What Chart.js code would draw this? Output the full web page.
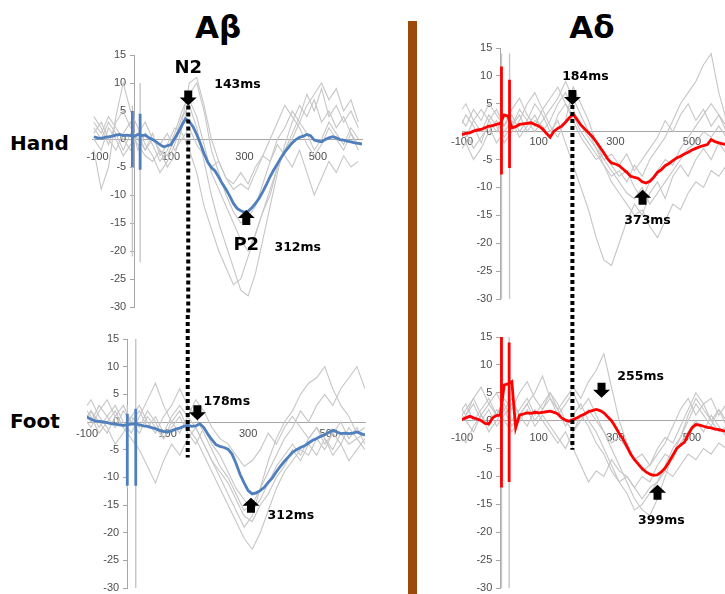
<!DOCTYPE html>
<html>
<head>
<meta charset="utf-8">
<script src="https://cdn.jsdelivr.net/npm/chart.js@4.4.1/dist/chart.umd.min.js"></script>
<style>
  html, body { margin: 0; padding: 0; background: #fff; }
  body { width: 725px; height: 594px; overflow: hidden; position: relative; font-family: "DejaVu Sans", sans-serif; }
  .panel { position: absolute; }
  .title { position: absolute; width: 100px; text-align: center; font-weight: bold; font-size: 31px; line-height: 31px; color: #000; }
  .row { position: absolute; left: 10px; font-weight: bold; font-size: 20px; line-height: 20px; color: #000; }
  .divider { position: absolute; left: 408px; top: 21px; width: 9px; height: 573px; background: #9c4a0c; }
</style>
</head>
<body>
<div class="title" style="left:168px;top:12px">Aβ</div>
<div class="title" style="left:542px;top:12px">Aδ</div>
<div class="row" style="top:133px">Hand</div>
<div class="row" style="top:411px">Foot</div>
<div class="divider"></div>

<div class="panel" style="left:60px;top:30px"><canvas id="abHand" width="310" height="285"></canvas></div>
<div class="panel" style="left:430px;top:25px"><canvas id="adHand" width="320" height="290"></canvas></div>
<div class="panel" style="left:55px;top:315px"><canvas id="abFoot" width="320" height="279"></canvas></div>
<div class="panel" style="left:430px;top:315px"><canvas id="adFoot" width="320" height="279"></canvas></div>

<script>
// ── Axes ──────────────────────────────────────────────────────────────────────
const xTicks = [-100, 100, 300, 500];
const yTicks = [-30, -25, -20, -15, -10, -5, 0, 5, 10, 15];

// grand average sampled every 10 ms
const meanTimes = [
  -110, -100, -90, -80, -70, -60, -50, -40, -30, -20,
  -10, 0, 10, 20, 30, 40, 50, 60, 70, 80,
  90, 100, 110, 120, 130, 140, 150, 160, 170, 180,
  190, 200, 210, 220, 230, 240, 250, 260, 270, 280,
  290, 300, 310, 320, 330, 340, 350, 360, 370, 380,
  390, 400, 410, 420, 430, 440, 450, 460, 470, 480,
  490, 500, 510, 520, 530, 540, 550, 560, 570, 580,
  590, 600, 610, 620,
];
// single subjects sampled every 20 ms
const greyTimes = [
  -110, -90, -70, -50, -30, -10, 10, 30, 50, 70,
  90, 110, 130, 150, 170, 190, 210, 230, 250, 270,
  290, 310, 330, 350, 370, 390, 410, 430, 450, 470,
  490, 510, 530, 550, 570, 590, 610,
];

// ── Hand Aβ ───────────────────────────────────────────────────────────────────
const abHandMean = [
  0.4, 0.2, 0.1, 0.3, 0.4, 0.5, 0.7, 0.8, 0.6, 0.7,
  0.6, 0.5, 0.8, 0.6, 0.7, 0.2, -0.1, -0.5, -1.0, -1.4,
  -1.2, -1.0, 0.1, 1.2, 2.5, 3.6, 3.1, 2.2, 0.8, -0.8,
  -2.6, -4.1, -5.1, -5.7, -6.8, -8.0, -9.0, -10.2, -11.5, -12.4,
  -12.8, -13.1, -12.9, -12.3, -11.5, -10.6, -9.4, -8.1, -6.7, -5.5,
  -4.4, -3.3, -2.3, -1.5, -0.7, -0.1, 0.3, 0.5, 0.8, 0.6,
  -0.2, -0.4, -0.5, -0.1, 0.2, 0.4, 0.2, -0.1, -0.2, -0.4,
  -0.5, -0.7, -0.8, -0.9,
];
const abHandGrey = [
  [2, 0, 3, 1, -2, 1, -1, -3, -4, -2, -3, 0, 4, 6, 2, -4, -10, -15, -19, -23, -27, -28, -24, -18, -12, -6, -1, 3, 6, 4, 7, 3, 5, 2, 4, 1, -2],
  [4, 2, -1, 3, 5, 2, 0, -2, 1, -3, -1, 2, 1, -2, -6, -12, -16, -20, -23, -26, -25, -21, -17, -13, -10, -5, -2, 1, 4, 8, 5, 9, 4, 6, 3, 5, 2],
  [-2, -9, -5, 4, 10, 5, 2, -1, -3, -6, -4, -1, 3, 10, 11, 6, 0, -4, -7, -9, -8, -9, -6, -3, 0, 3, 6, 4, 2, -1, -3, -1, 2, 0, -2, 1, -1],
  [1, 3, 0, -2, 1, 3, -2, 1, -1, -4, -2, 1, 5, 8, 10, 5, -2, -6, -10, -13, -15, -14, -12, -8, -4, 0, 2, 5, 3, 6, 8, 10, 7, 9, 5, 7, 3],
  [0, -2, 2, 0, -3, -1, 1, -2, 0, -1, 1, -2, 0, 2, -1, -3, -5, -4, -7, -8, -6, -8, -5, -3, -4, -1, -3, -5, -2, -6, -10, -7, -4, -6, -3, -5, -4],
  [3, 1, 4, 2, 0, -2, 1, 3, 0, -2, -5, -3, 2, 7, 4, -1, -6, -9, -12, -15, -18, -20, -17, -13, -9, -5, -2, 0, 3, 1, -2, 0, 3, 1, -1, 2, 0],
];
const abHandSpikeTimes = [-5, 16];
const abHandMeanSpikeHi = [5, 4.5];
const abHandMeanSpikeLo = [-5, -5.5];
const abHandGreySpikeHi = [6, 10];
const abHandGreySpikeLo = [-21, -22];

// ── Hand Aδ ───────────────────────────────────────────────────────────────────
const adHandMean = [
  -0.6, -0.5, -0.3, -0.2, 0.1, 0.3, 0.4, 0.7, 1.0, 1.1,
  1.3, 1.5, 3.0, 2.8, 0.7, 0.9, 1.3, 1.4, 1.5, 1.6,
  1.3, 1.0, 0.5, -0.3, -1.0, 0.1, 0.6, 1.0, 1.7, 2.5,
  3.1, 2.2, 1.2, 0.5, -0.2, -0.9, -1.8, -2.8, -3.8, -4.9,
  -5.6, -5.8, -6.1, -6.7, -7.3, -8.0, -8.2, -8.4, -9.0, -9.2,
  -8.9, -8.2, -7.3, -6.8, -6.1, -5.7, -5.2, -4.7, -4.4, -4.0,
  -3.7, -3.3, -3.0, -2.7, -2.5, -2.3, -1.4, -1.8, -2.0, -2.2,
  -2.3, -2.4, -2.5, -2.6,
];
const adHandGrey = [
  [0, 3, 1, -2, 2, 4, 1, 3, 0, 2, 5, 3, 0, 2, -2, -6, -10, -14, -19, -23, -24, -20, -16, -13, -15, -11, -9, -12, -8, -6, -8, -5, -3, -5, -2, -4, -3],
  [3, 1, 4, 2, 5, 3, 1, 4, 6, 3, 1, 4, 6, 8, 5, 3, 0, -2, -4, -6, -8, -7, -9, -6, -8, -5, -3, -1, 2, 5, 7, 9, 12, 14, 7, 2, 0],
  [-2, 0, -3, -1, 1, -2, 0, 2, -1, 1, 3, 0, 2, 5, 7, 4, 1, -1, -3, -6, -9, -11, -13, -15, -14, -17, -19, -16, -13, -14, -11, -9, -10, -7, -8, -6, -5],
  [1, -1, 2, 4, 2, 0, 3, 1, 4, 2, 0, 2, 4, 6, 9, 6, 3, 0, -3, -5, -7, -9, -11, -12, -10, -13, -11, -9, -7, -5, -3, -2, 0, -1, 1, -1, -2],
  [-4, -2, -5, -3, 0, 2, -1, 1, 3, 0, 2, 1, -1, 3, 5, 2, -1, -3, -5, -4, -6, -8, -7, -10, -12, -9, -7, -5, -6, -3, -1, 1, 3, 5, 3, 1, -1],
  [3, 5, 2, 0, 3, 1, -2, 0, 2, 5, 7, 4, 1, -1, 2, 8, 5, 2, -2, -5, -4, -6, -4, -7, -5, -3, -1, 2, 0, 3, 5, 2, 4, 1, 3, 0, 1],
];
const adHandSpikeTimes = [3, 24];
const adHandMeanSpikeHi = [11.7, 9.3];
const adHandMeanSpikeLo = [-7.7, -6.5];
const adHandGreySpikeHi = [14, 14];
const adHandGreySpikeLo = [-30, -30];

// ── Foot Aβ ───────────────────────────────────────────────────────────────────
const abFootMean = [
  1.0, 0.9, 0.5, 0.2, 0.1, 0.0, -0.1, -0.3, -0.4, -0.5,
  -0.6, -0.5, -0.4, -0.3, -0.5, -0.7, -0.8, -1.0, -1.2, -1.5,
  -1.7, -1.8, -1.6, -1.3, -1.1, -0.8, -0.6, -0.8, -0.7, -0.3,
  -1.0, -2.2, -3.2, -4.1, -4.4, -4.6, -4.9, -5.8, -7.5, -9.5,
  -11.0, -12.4, -13.0, -12.8, -12.4, -11.8, -10.9, -10.1, -9.0, -8.0,
  -7.1, -6.3, -5.5, -5.0, -4.6, -4.3, -3.8, -3.3, -3.0, -2.6,
  -2.3, -1.9, -1.5, -1.8, -2.1, -2.0, -2.1, -2.0, -1.8, -2.1,
  -2.4, -2.5, -2.6, -2.7,
];
const abFootGrey = [
  [2, 0, 3, 1, -1, 2, 0, -2, 1, -1, -3, 0, 2, -1, -3, -6, -9, -12, -15, -18, -21, -23, -20, -16, -12, -9, -7, -5, -6, -3, -5, -2, -4, -1, -3, -2, -1],
  [0, 2, -1, 1, 3, 0, -2, 1, 4, 7, 3, 0, -2, 1, -1, -4, -7, -10, -13, -16, -19, -17, -12, -7, -3, 0, 2, 5, 7, 8, 10, 6, 3, 1, -2, -1, -3],
  [3, 1, -2, 0, 2, -1, 1, 3, 0, -2, 1, 3, 6, 3, 1, -2, -5, -8, -10, -13, -16, -15, -12, -9, -6, -3, -1, 2, 0, 3, 5, 3, 6, 8, 10, 6, 1],
  [-1, 2, 0, -2, 1, -1, -3, -5, -8, -11, -7, -4, -6, -3, -1, -4, -7, -9, -11, -14, -17, -18, -15, -13, -10, -8, -5, -7, -4, -6, -3, -5, -2, -4, -3, -5, -2],
  [1, -1, 2, 4, 1, 3, 0, 2, -1, 1, -2, 1, 3, 1, 4, 2, -1, -3, -4, -6, -8, -7, -5, -2, -4, -1, 1, -1, -3, -1, -4, -2, 0, -3, -1, -4, -3],
  [2, 4, 1, -1, -4, -2, 1, -1, 2, 0, -3, -1, 1, -2, -4, -1, -4, -6, -9, -12, -14, -16, -14, -11, -8, -6, -4, -6, -3, -1, -3, -6, -4, -7, -5, -3, -6],
];
const abFootSpikeTimes = [0, 21];
const abFootMeanSpikeHi = [1.5, 2.4];
const abFootMeanSpikeLo = [-11.5, -11.5];
const abFootGreySpikeHi = [3, 15];
const abFootGreySpikeLo = [-12, -30];

// ── Foot Aδ ───────────────────────────────────────────────────────────────────
const adFootMean = [
  0.0, 0.2, 0.5, 0.8, 0.5, 0.3, 0.0, -0.5, -0.6, 0.5,
  0.9, 1.0, 6.4, 6.6, 7.0, -1.3, 1.0, 1.2, 1.4, 1.3,
  1.5, 1.4, 1.5, 1.6, 1.7, 1.5, 1.2, 0.5, 0.1, -0.1,
  0.2, 0.5, 0.9, 1.2, 1.6, 1.8, 2.0, 1.8, 1.4, 0.7,
  0.0, -1.1, -2.3, -3.3, -4.6, -6.0, -7.0, -7.8, -8.6, -9.2,
  -9.6, -9.8, -9.7, -9.2, -8.5, -7.4, -6.2, -5.0, -4.4, -3.9,
  -2.5, -1.3, -0.7, -0.8, -1.0, -1.2, -1.3, -1.5, -1.6, -1.8,
  -1.9, -2.0, -2.1, -2.2,
];
const adFootGrey = [
  [1, 3, 0, 2, 4, 1, 3, 0, 2, 4, 1, 3, 5, 2, 4, 6, 4, 7, 9, 12, 6, 0, -4, -7, -9, -8, -6, -4, -1, 2, 4, 1, 3, 0, 2, -1, 1],
  [-1, 1, 3, 0, 2, -1, 1, 3, 1, -1, 2, 0, -2, -4, -2, -5, -8, -11, -9, -10, -7, -9, -10, -12, -14, -12, -11, -9, -10, -8, -6, -7, -5, -6, -4, -5, -6],
  [2, 0, -2, 1, 3, 5, 2, 4, 1, 3, 0, 2, 4, 1, 3, 5, 2, 4, 1, -2, -5, -8, -11, -14, -16, -17, -14, -10, -6, -3, 0, 3, 1, -1, 2, 0, -2],
  [-2, -4, -1, 1, -2, 0, 2, -1, 1, 3, 5, 8, 4, 2, -1, 1, 3, 0, -2, -5, -8, -11, -13, -16, -15, -13, -11, -8, -5, -3, 1, 4, 2, 0, -2, -1, -3],
  [0, 2, 4, 1, -1, 2, 0, -2, 0, 2, -1, 1, -1, -3, -5, -2, 0, 2, 0, -2, -4, -3, -5, -7, -6, -8, -5, -3, -4, -1, 2, 5, 3, 4, 1, 3, 0],
  [3, 1, 4, 6, 3, 1, 4, 2, 5, 7, 4, 2, 5, 3, 0, -2, 1, -1, -4, -6, -9, -11, -10, -12, -10, -11, -8, -6, -7, -4, -2, 0, -2, 1, -1, -3, -1],
];
const adFootSpikeTimes = [3, 23];
const adFootMeanSpikeHi = [15, 14];
const adFootMeanSpikeLo = [-12, -11];
const adFootGreySpikeHi = [15, 15];
const adFootGreySpikeLo = [-30, -30];

// ── Annotations (latency arrows, labels, dotted guide) ───────────────────────
const abHandArrows = [{ t: 147, v: 6.0, dir: "down" }, { t: 305, v: -12.7, dir: "up" }];
const abHandLabels = [
  { t: 147, v: 12.6, text: "N2", size: 18 },
  { t: 281, v: 9.6, text: "143ms", size: 12.5 },
  { t: 305, v: -18.9, text: "P2", size: 18 },
  { t: 445, v: -19.5, text: "312ms", size: 12.5 },
];
const abHandGuide = { t: 147, from: 6.0, to: null };

const adHandArrows = [{ t: 188, v: 4.8, dir: "down" }, { t: 371, v: -10.4, dir: "up" }];
const adHandLabels = [
  { t: 222, v: 9.8, text: "184ms", size: 12.5 },
  { t: 384, v: -16.0, text: "373ms", size: 12.5 },
];
const adHandGuide = { t: 188, from: 4.8, to: null };

const abFootArrows = [{ t: 174, v: 0.3, dir: "down" }, { t: 307, v: -13.7, dir: "up" }];
const abFootLabels = [
  { t: 247, v: 3.7, text: "178ms", size: 12.5 },
  { t: 406, v: -16.9, text: "312ms", size: 12.5 },
];
const abFootGuide = { t: 150, from: null, to: -6.4 };

const adFootArrows = [{ t: 264, v: 4.1, dir: "down" }, { t: 410, v: -11.5, dir: "up" }];
const adFootLabels = [
  { t: 366, v: 7.9, text: "255ms", size: 12.5 },
  { t: 420, v: -17.9, text: "399ms", size: 12.5 },
];
const adFootGuide = { t: 188, from: null, to: -5.2 };

// ── Styling ───────────────────────────────────────────────────────────────────
const BLUE = "#4f7fbd";
const RED = "#ff0000";
const GREY = "#c6c6c6";
const AXIS = "#a6a6a6";
const TICK_COLOR = "#4d4d4d";
const TICK_FONT = { family: "'Liberation Sans', Arial, sans-serif", size: 11 };

function xy(times, values) {
  return times.map((t, i) => ({ x: t, y: values[i] }));
}

function lineSet(data, color, width) {
  return { data, borderColor: color, borderWidth: width, pointRadius: 0, tension: 0, fill: false };
}

function drawArrow(ctx, px, tip, dir) {
  const s = dir === "down" ? 1 : -1;
  ctx.beginPath();
  ctx.moveTo(px, tip);
  ctx.lineTo(px - 8.5, tip - 8 * s);
  ctx.lineTo(px - 4, tip - 8 * s);
  ctx.lineTo(px - 4, tip - 15 * s);
  ctx.lineTo(px + 4, tip - 15 * s);
  ctx.lineTo(px + 4, tip - 8 * s);
  ctx.lineTo(px + 8.5, tip - 8 * s);
  ctx.closePath();
  ctx.fill();
}

function marksPlugin(arrows, labels, guide) {
  return {
    id: "marks",
    afterDatasetsDraw(chart) {
      const { ctx, scales: { x, y } } = chart;
      ctx.save();
      // dotted guide running between the upper and lower panels
      const gx = x.getPixelForValue(guide.t);
      const y0 = guide.from == null ? 0 : y.getPixelForValue(guide.from);
      const y1 = guide.to == null ? chart.height : y.getPixelForValue(guide.to);
      ctx.strokeStyle = "#000";
      ctx.lineWidth = 4;
      ctx.setLineDash([4, 3]);
      ctx.beginPath();
      ctx.moveTo(gx, y0);
      ctx.lineTo(gx, y1);
      ctx.stroke();
      ctx.setLineDash([]);

      ctx.fillStyle = "#000";
      arrows.forEach(a => drawArrow(ctx, x.getPixelForValue(a.t), y.getPixelForValue(a.v), a.dir));

      ctx.textAlign = "center";
      ctx.textBaseline = "middle";
      labels.forEach(l => {
        ctx.font = `bold ${l.size}px 'DejaVu Sans', sans-serif`;
        ctx.fillText(l.text, x.getPixelForValue(l.t), y.getPixelForValue(l.v));
      });
      ctx.restore();
    },
  };
}

function makePanel(id, cfg) {
  const datasets = [lineSet(xy(meanTimes, cfg.mean), cfg.color, 2.8)];
  cfg.spikeTimes.forEach((t, i) => {
    datasets.push(lineSet([{ x: t, y: cfg.meanHi[i] }, { x: t, y: cfg.meanLo[i] }], cfg.color, 2.8));
  });
  cfg.spikeTimes.forEach((t, i) => {
    datasets.push(lineSet([{ x: t, y: cfg.greyHi[i] }, { x: t, y: cfg.greyLo[i] }], GREY, 1.4));
  });
  cfg.greys.forEach(g => datasets.push(lineSet(xy(greyTimes, g), GREY, 1.1)));

  const yRange = { type: "linear", min: -30, max: 15 };
  const fixYTicks = s => { s.ticks = yTicks.map(v => ({ value: v })); };
  const noYPad = s => { s.paddingTop = 0; s.paddingBottom = 0; };

  new Chart(document.getElementById(id), {
    type: "line",
    data: { datasets },
    options: {
      responsive: false,
      animation: false,
      events: [],
      layout: { autoPadding: false, padding: cfg.pad },
      plugins: { legend: { display: false }, tooltip: { enabled: false } },
      scales: {
        x: {
          type: "linear", min: cfg.xMin, max: cfg.xMax, position: { y: 0 },
          afterBuildTicks: s => { s.ticks = xTicks.map(v => ({ value: v })); },
          afterFit: s => { s.paddingLeft = 0; s.paddingRight = 0; },
          grid: { display: false, drawTicks: false },
          border: { display: true, color: AXIS, width: 1 },
          ticks: { color: TICK_COLOR, font: TICK_FONT, padding: cfg.xLabelPad, maxRotation: 0, autoSkip: false },
        },
        // axis line and tick marks at 0 ms
        y: {
          ...yRange, position: { x: 0 },
          afterBuildTicks: fixYTicks, afterFit: noYPad,
          grid: { display: true, drawOnChartArea: false, drawTicks: true, tickLength: 4, color: AXIS },
          border: { display: true, color: AXIS, width: 1 },
          ticks: { display: false },
        },
        // tick labels, set a few pixels left of the axis line
        yLabels: {
          ...yRange, position: { x: cfg.yLabelAt },
          afterBuildTicks: fixYTicks, afterFit: noYPad,
          grid: { display: false, drawTicks: false },
          border: { display: false },
          ticks: { color: TICK_COLOR, font: TICK_FONT, padding: 0, autoSkip: false },
        },
      },
    },
    plugins: [marksPlugin(cfg.arrows, cfg.labels, cfg.guide)],
  });
}

makePanel("abHand", {
  color: BLUE, mean: abHandMean, greys: abHandGrey,
  spikeTimes: abHandSpikeTimes, meanHi: abHandMeanSpikeHi, meanLo: abHandMeanSpikeLo,
  greyHi: abHandGreySpikeHi, greyLo: abHandGreySpikeLo,
  xMin: -115, xMax: 620, pad: { left: 32, right: 8, top: 25, bottom: 8 }, xLabelPad: 11, yLabelAt: -22,
  arrows: abHandArrows, labels: abHandLabels, guide: abHandGuide,
});
makePanel("adHand", {
  color: RED, mean: adHandMean, greys: adHandGrey,
  spikeTimes: adHandSpikeTimes, meanHi: adHandMeanSpikeHi, meanLo: adHandMeanSpikeLo,
  greyHi: adHandGreySpikeHi, greyLo: adHandGreySpikeLo,
  xMin: -100, xMax: 620, pad: { left: 32, right: 12, top: 23, bottom: 16 }, xLabelPad: 4, yLabelAt: -21,
  arrows: adHandArrows, labels: adHandLabels, guide: adHandGuide,
});
makePanel("abFoot", {
  color: BLUE, mean: abFootMean, greys: abFootGrey,
  spikeTimes: abFootSpikeTimes, meanHi: abFootMeanSpikeHi, meanLo: abFootMeanSpikeLo,
  greyHi: abFootGreySpikeHi, greyLo: abFootGreySpikeLo,
  xMin: -100, xMax: 590, pad: { left: 32, right: 10, top: 24, bottom: 6 }, xLabelPad: 5, yLabelAt: -20,
  arrows: abFootArrows, labels: abFootLabels, guide: abFootGuide,
});
makePanel("adFoot", {
  color: RED, mean: adFootMean, greys: adFootGrey,
  spikeTimes: adFootSpikeTimes, meanHi: adFootMeanSpikeHi, meanLo: adFootMeanSpikeLo,
  greyHi: adFootGreySpikeHi, greyLo: adFootGreySpikeLo,
  xMin: -100, xMax: 620, pad: { left: 32, right: 12, top: 22, bottom: 6 }, xLabelPad: 11, yLabelAt: -21,
  arrows: adFootArrows, labels: adFootLabels, guide: adFootGuide,
});
</script>
</body>
</html>
